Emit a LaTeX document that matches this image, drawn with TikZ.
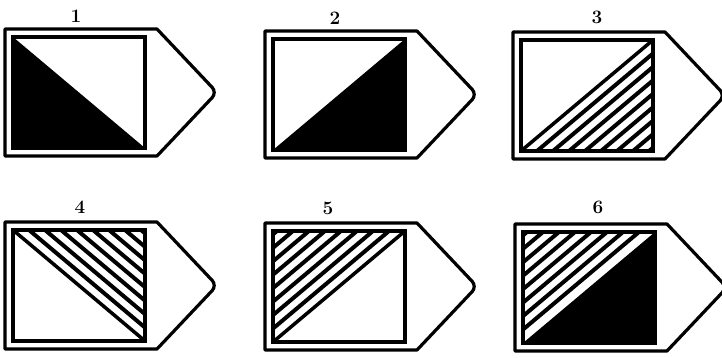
\documentclass[tikz,border=0pt]{standalone}
\begin{document}
\begin{tikzpicture}[x=1pt,y=-1pt,
  outer/.style={line width=3.2pt, line join=round},
  inner/.style={line width=3.5pt, line join=miter},
  hatch/.style={line width=4pt},
  diag/.style={line width=3.5pt},
  lab/.style={font=\bfseries\fontsize{19}{19}\selectfont, inner sep=0pt}]
\useasboundingbox (0,0) rectangle (722,358);
\newcommand\tagshape{%
  \draw[outer] (0,0) -- (152,0) [rounded corners=7pt] -- (212,63.5) [sharp corners] -- (152,127) -- (0,127) -- cycle;}
\newcommand\innerbox{\draw[inner] (8,8) rectangle (140,119);}
% panel 1
\begin{scope}[shift={(5,29)}]
  \tagshape
  \fill (8,8) -- (8,119) -- (140,119) -- cycle;
  \innerbox
\end{scope}
% panel 2
\begin{scope}[shift={(265,31)}]
  \tagshape
  \fill (8,119) -- (140,8) -- (140,119) -- cycle;
  \innerbox
\end{scope}
% panel 3
\begin{scope}[shift={(513,32)}]
  \tagshape
  \begin{scope}
    \clip (8,119) -- (140,8) -- (140,119) -- cycle;
    \foreach \k in {1,...,8} {\draw[hatch] ({8+16*\k},119) -- ({140+16*\k},8);}
  \end{scope}
  \draw[diag] (8,119) -- (140,8);
  \innerbox
\end{scope}
% panel 4
\begin{scope}[shift={(5,222)}]
  \tagshape
  \begin{scope}
    \clip (8,8) -- (140,8) -- (140,119) -- cycle;
    \foreach \k in {1,...,8} {\draw[hatch] ({8+16*\k},8) -- ({140+16*\k},119);}
  \end{scope}
  \draw[diag] (8,8) -- (140,119);
  \innerbox
\end{scope}
% panel 5
\begin{scope}[shift={(265,223)}]
  \tagshape
  \begin{scope}
    \clip (8,119) -- (8,8) -- (140,8) -- cycle;
    \foreach \k in {1,...,8} {\draw[hatch] ({8-16*\k},119) -- ({140-16*\k},8);}
  \end{scope}
  \draw[diag] (8,119) -- (140,8);
  \innerbox
\end{scope}
% panel 6
\begin{scope}[shift={(515,224)}]
  \tagshape
  \fill (8,119) -- (140,8) -- (140,119) -- cycle;
  \begin{scope}
    \clip (8,119) -- (8,8) -- (140,8) -- cycle;
    \foreach \k in {1,...,8} {\draw[hatch] ({8-16*\k},119) -- ({140-16*\k},8);}
  \end{scope}
  \innerbox
\end{scope}
\node[lab] (l1) at (76,16) {1};
\node[lab] (l2) at (335,18) {2};
\node[lab] (l3) at (597,17) {3};
\node[lab] (l4) at (80,207) {4};
\node[lab] (l5) at (328,208) {5};
\node[lab] (l6) at (598,207) {6};
\end{tikzpicture}
\end{document}
